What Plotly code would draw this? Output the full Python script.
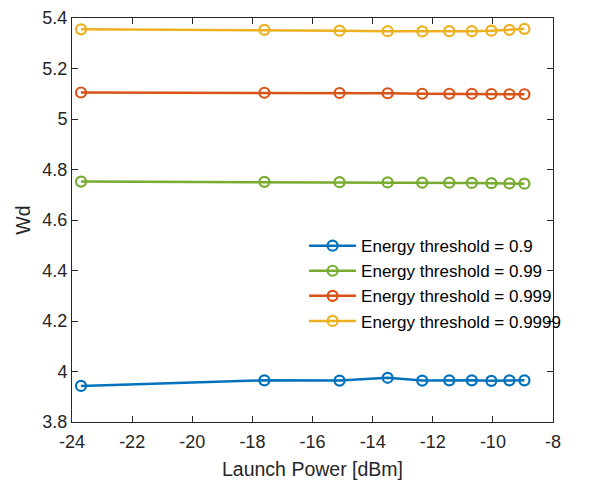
import plotly.graph_objects as go

launch_power = [-23.7, -17.6, -15.1, -13.5, -12.35, -11.45, -10.7, -10.05, -9.45, -8.95]
wd_09 = [3.943, 3.965, 3.964, 3.975, 3.964, 3.965, 3.965, 3.963, 3.965, 3.965]
wd_099 = [4.752, 4.751, 4.750, 4.749, 4.748, 4.748, 4.747, 4.746, 4.745, 4.744]
wd_0999 = [5.105, 5.104, 5.103, 5.102, 5.100, 5.100, 5.100, 5.099, 5.098, 5.098]
wd_09999 = [5.355, 5.353, 5.350, 5.348, 5.347, 5.348, 5.348, 5.350, 5.353, 5.357]

series_names = ["Energy threshold = 0.9", "Energy threshold = 0.99",
                "Energy threshold = 0.999", "Energy threshold = 0.9999"]
series_values = [wd_09, wd_099, wd_0999, wd_09999]
colors = ["#0072BD", "#77AC30", "#D95319", "#EDB120"]

x_ticks = [-24, -22, -20, -18, -16, -14, -12, -10, -8]
y_ticks = [3.8, 4.0, 4.2, 4.4, 4.6, 4.8, 5.0, 5.2, 5.4]
y_tick_labels = ["3.8", "4", "4.2", "4.4", "4.6", "4.8", "5", "5.2", "5.4"]

fig = go.Figure()
for name, vals, c in zip(series_names, series_values, colors):
    fig.add_trace(go.Scatter(
        x=launch_power, y=vals, name=name, mode="lines+markers",
        line=dict(color=c, width=2.5),
        marker=dict(symbol="circle-open", size=10, color=c, line=dict(width=2.2, color=c)),
    ))

axis_color = "#262626"
font_family = "Liberation Sans, Arial, sans-serif"
fig.update_layout(
    template="none",
    width=597, height=475,
    margin=dict(l=64, r=52, t=10, b=61, autoexpand=False),
    paper_bgcolor="white", plot_bgcolor="white",
    font=dict(family=font_family, color=axis_color, size=17),
    showlegend=True,
    legend=dict(x=0.4825, y=0.48, xanchor="left", yanchor="top",
                bgcolor="rgba(255,255,255,0)", borderwidth=0,
                font=dict(size=17, color="black"), itemwidth=47,
                tracegroupgap=0),
    xaxis=dict(range=[-24, -8], tickvals=x_ticks, ticktext=[str(t) for t in x_ticks],
               showgrid=False, zeroline=False, showline=True, linecolor=axis_color,
               linewidth=1, mirror="ticks", ticks="inside", ticklen=6, tickcolor=axis_color,
               automargin=False, ticklabeloverflow="allow", ticklabelstandoff=3,
               tickfont=dict(size=18), title=dict(text="Launch Power [dBm]", font=dict(size=19.5), standoff=11)),
    yaxis=dict(range=[3.8, 5.4], tickvals=y_ticks, ticktext=y_tick_labels,
               showgrid=False, zeroline=False, showline=True, linecolor=axis_color,
               linewidth=1, mirror="ticks", ticks="inside", ticklen=6, tickcolor=axis_color,
               automargin=False, ticklabeloverflow="allow",
               tickfont=dict(size=18), title=dict(text="Wd", font=dict(size=19.5), standoff=6)),
)

fig.write_html("out.html")
